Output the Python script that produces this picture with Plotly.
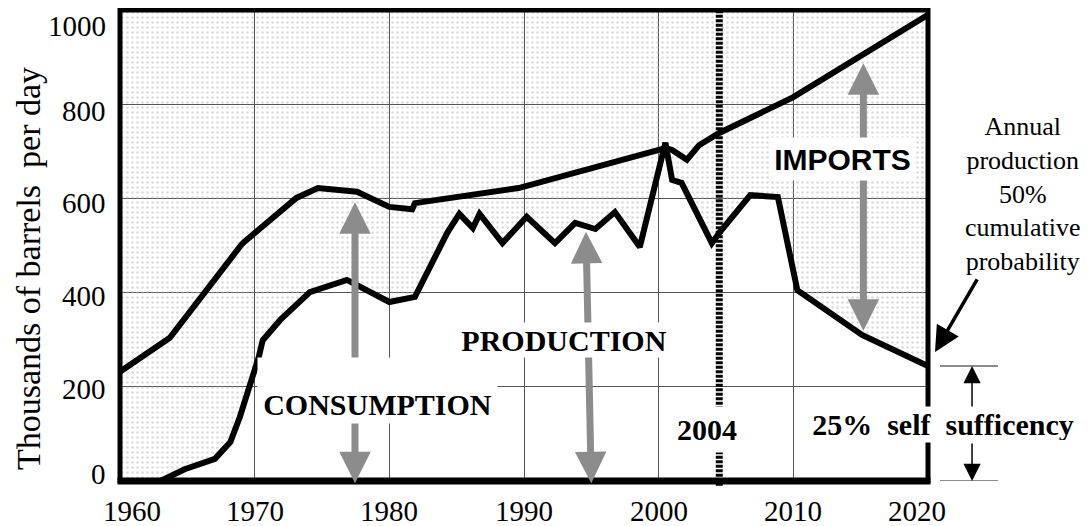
import plotly.graph_objects as go

# ---------------- data ----------------
cons_years = [1960, 1963.7, 1969.0, 1969.2, 1973.1, 1974.7, 1977.6, 1980.0, 1981.7, 1981.9,
              1989.6, 2000.5, 2001.0, 2002.1, 2003.0, 2004.5, 2010.0, 2020]
cons_vals = [232, 304, 501, 507, 601, 622, 614, 582, 577, 590,
             622, 707, 703, 682, 713, 739, 815, 990]

prod_years = [1963.0, 1964.8, 1967.05, 1968.2, 1968.9, 1969.5, 1970.0, 1970.3, 1970.6, 1971.9,
              1974.1, 1976.85, 1980.0, 1981.9, 1984.3, 1985.2, 1986.2, 1986.7, 1988.4, 1990.2,
              1992.3, 1993.8, 1995.3, 1996.75, 1998.6, 2000.5, 2001.0, 2001.7, 2003.95, 2004.5,
              2006.8, 2008.85, 2010.3, 2015.1, 2020]
prod_vals = [0, 25, 47, 83, 136, 187, 229, 263, 299, 342,
             401, 427, 380, 391, 527, 567, 537, 567, 505, 561,
             505, 548, 535, 571, 497, 718, 639, 633, 505, 527,
             607, 603, 405, 310, 244]

x_tick_vals = [1960, 1970, 1980, 1990, 2000, 2010, 2020]
x_tick_text = ["1960", "1970", "1980", "1990", "2000", "2010", "2020"]
y_tick_vals = [0, 200, 400, 600, 800, 1000]
y_tick_text = ["0", "200", "400", "600", "800", "1000"]

marker_year = 2004.5
marker_label = "2004"

# arrows: (x_start, y_start, x_end, y_end) in data units
consumption_arrow = (1977.45, -8, 1977.45, 592)
production_arrow = (1995.0, -8, 1994.6, 529)
imports_arrow = (2015.2, 316, 2015.2, 887)

X_RANGE = [1960, 2020]
Y_RANGE = [0, 1000]

# ---------------- style ----------------
# the page body has an 8px margin, so the figure is 8px smaller than the window
W, H = 1080, 518
ML, MR, MT, MB = 112, 160, 2, 45
SERIF = "Liberation Serif"
SANS = "Liberation Sans"
GRID = "#555555"
GRAY_ARROW = "#8c8c8c"

fig = go.Figure()

# dotted region: everything above the production curve
fill_x = [X_RANGE[0]] + prod_years + [prod_years[-1], X_RANGE[0]]
fill_y = [0] + prod_vals + [Y_RANGE[1], Y_RANGE[1]]
fig.add_trace(go.Scatter(
    x=fill_x, y=fill_y, mode="lines", fill="toself",
    line=dict(width=0, color="rgba(0,0,0,0)"),
    fillcolor="rgba(255,255,255,0)",
    fillpattern=dict(shape=".", fgcolor="#b4b4b4", bgcolor="rgba(255,255,255,0)",
                     size=5, solidity=0.2),
    hoverinfo="skip", showlegend=False))

fig.add_trace(go.Scatter(x=cons_years, y=cons_vals, mode="lines",
                         line=dict(color="black", width=6), name="Consumption",
                         showlegend=False))
fig.add_trace(go.Scatter(x=prod_years, y=prod_vals, mode="lines",
                         line=dict(color="black", width=6), name="Production",
                         showlegend=False))

fig.update_xaxes(range=X_RANGE, tickvals=x_tick_vals, showticklabels=False,
                 showgrid=True, gridcolor=GRID, gridwidth=1, zeroline=False,
                 showline=False, ticks="")
fig.update_yaxes(range=Y_RANGE, tickvals=y_tick_vals, showticklabels=False,
                 showgrid=True, gridcolor=GRID, gridwidth=1, zeroline=False,
                 showline=False, ticks="")

shapes = []
# 2004 dashed marker
shapes.append(dict(type="line", xref="x", yref="paper", x0=marker_year, x1=marker_year,
                   y0=-0.01, y1=1.0, line=dict(color="black", width=7, dash="3px,1.5px"),
                   layer="above"))
# frame
shapes.append(dict(type="rect", xref="paper", yref="paper", x0=0, x1=1, y0=0, y1=1,
                   line=dict(color="black", width=5), layer="above"))
shapes.append(dict(type="line", xref="paper", yref="paper", x0=-0.003, x1=1.003, y0=0, y1=0,
                   line=dict(color="black", width=7), layer="above"))
# self-sufficiency dimension lines
for yv in (prod_vals[-1], 0):
    shapes.append(dict(type="line", xref="paper", yref="y", x0=1.0149, x1=1.0866,
                       y0=yv, y1=yv, line=dict(color="#666666", width=1.5)))
fig.update_layout(shapes=shapes)

ann = []


def gray_arrow(a):
    x0, y0, x1, y1 = a
    return dict(x=x1, y=y1, ax=x0, ay=y0, xref="x", yref="y", axref="x", ayref="y",
                text="", showarrow=True, arrowhead=2, startarrowhead=2,
                arrowside="end+start", arrowwidth=7, arrowsize=0.9, startarrowsize=0.9,
                arrowcolor=GRAY_ARROW, standoff=0, startstandoff=0)


ann += [gray_arrow(consumption_arrow), gray_arrow(production_arrow), gray_arrow(imports_arrow)]

bold_serif = dict(family=SERIF, size=30, color="black")
ann.append(dict(x=1979.1, y=192, xref="x", yref="y", text="<b>CONSUMPTION</b>",
                showarrow=False, font=bold_serif, bgcolor="white", width=235, height=61,
                valign="bottom", borderpad=2, xanchor="center", yanchor="middle"))
ann.append(dict(x=1992.97, y=299, xref="x", yref="y", text="<b>PRODUCTION</b>",
                showarrow=False, font=bold_serif, bgcolor="white", width=208, height=30,
                borderpad=2, xanchor="center", yanchor="middle"))
ann.append(dict(x=2013.65, y=684, xref="x", yref="y", text="<b>IMPORTS</b>",
                showarrow=False, font=dict(family=SANS, size=30, color="black"),
                bgcolor="white", width=137, height=38, borderpad=2,
                xanchor="center", yanchor="middle"))
ann.append(dict(x=2003.59, y=109, xref="x", yref="y", text="<b>" + marker_label + "</b>",
                showarrow=False, font=bold_serif, bgcolor="white", width=66, height=41,
                borderpad=2, xanchor="center", yanchor="middle"))

# self-sufficiency arrows + label
ann.append(dict(x=1.0545, y=prod_vals[-1], xref="paper", yref="y", ax=0, ay=44,
                text="", showarrow=True, arrowhead=2, arrowwidth=1.5, arrowsize=2.3,
                arrowcolor="black", standoff=0))
ann.append(dict(x=1.0545, y=0, xref="paper", yref="y", ax=0, ay=-39,
                text="", showarrow=True, arrowhead=2, arrowwidth=1.5, arrowsize=2.3,
                arrowcolor="black", standoff=0))
ann.append(dict(x=1.0186, y=0.12, xref="paper", yref="paper",
                text="<b>25%\u00a0\u00a0self\u00a0\u00a0sufficency</b>",
                showarrow=False, font=bold_serif, bgcolor="white", width=266, height=31,
                borderpad=2, xanchor="center", yanchor="middle"))

# annual production note + pointer
ann.append(dict(x=1.118, y=0.609, xref="paper", yref="paper",
                text="Annual<br>production<br>50%<br>cumulative<br>probability",
                showarrow=False, font=dict(family=SERIF, size=26, color="black"),
                align="center", xanchor="center", yanchor="middle"))
ann.append(dict(x=1.0087, y=0.274, xref="paper", yref="paper", ax=43, ay=-74,
                text="", showarrow=True, arrowhead=2, arrowwidth=3.5, arrowsize=1.45,
                arrowcolor="black", standoff=0))

# tick labels
tick_font = dict(family=SERIF, size=29, color="black")
x_nudge = {0: 12, len(x_tick_vals) - 1: -11}
for i, (v, t) in enumerate(zip(x_tick_vals, x_tick_text)):
    ann.append(dict(x=v, y=0, xref="x", yref="paper", text=t, showarrow=False,
                    font=tick_font, xanchor="center", yanchor="middle",
                    xshift=x_nudge.get(i, 0), yshift=-30))
y_nudge = [7, -2, -3, -5, -7, -16]
for v, t, s in zip(y_tick_vals, y_tick_text, y_nudge):
    ann.append(dict(x=0, y=v, xref="paper", yref="y", text=t, showarrow=False,
                    font=tick_font, xanchor="right", yanchor="middle",
                    xshift=-12, yshift=s))

ann.append(dict(x=-0.1139, y=0.452, xref="paper", yref="paper",
                text="Thousands of barrels\u00a0 per day", textangle=-90,
                showarrow=False, font=dict(family=SERIF, size=34, color="black"),
                xanchor="center", yanchor="middle"))

fig.update_layout(annotations=ann, width=W, height=H,
                  margin=dict(l=ML, r=MR, t=MT, b=MB),
                  paper_bgcolor="white", plot_bgcolor="white", showlegend=False)

fig.write_html("out.html")
